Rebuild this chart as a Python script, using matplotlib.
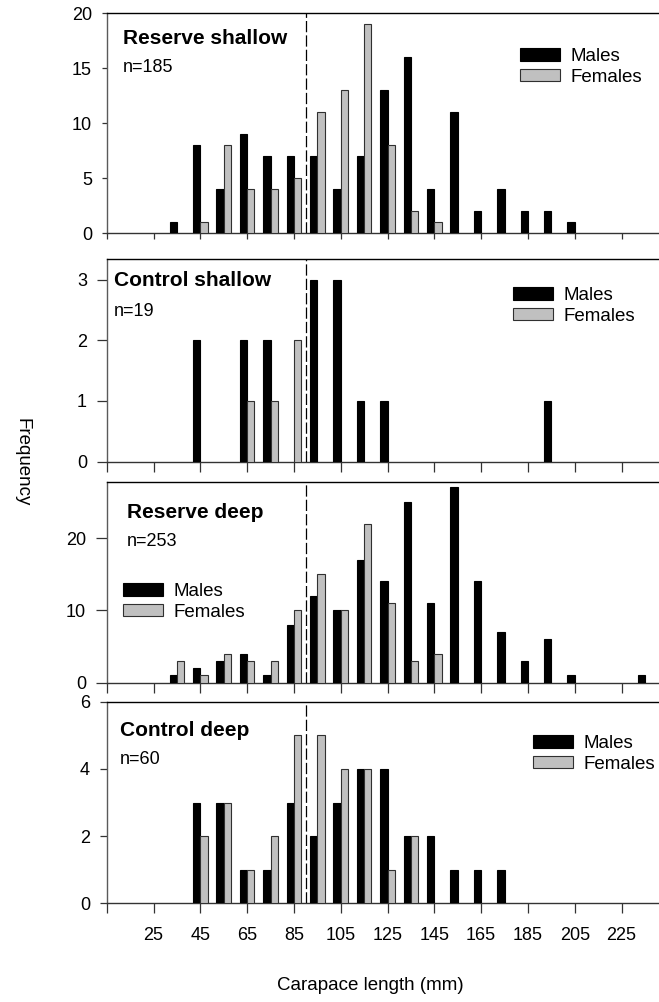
import matplotlib
matplotlib.use("Agg")
import matplotlib.pyplot as plt
import numpy as np

plt.rcParams['font.family'] = ['Liberation Sans', 'DejaVu Sans']

W, H = 659, 1002

# carapace-length size classes (mm, bin centres)
bin_centers = [35, 45, 55, 65, 75, 85, 95, 105, 115, 125, 135,
               145, 155, 165, 175, 185, 195, 205, 215, 225, 235]

reserve_shallow_males = [1, 8, 4, 9, 7, 7, 7, 4, 7, 13, 16, 4, 11, 2, 4, 2, 2, 1, 0, 0, 0]
reserve_shallow_females = [0, 1, 8, 4, 4, 5, 11, 13, 19, 8, 2, 1, 0, 0, 0, 0, 0, 0, 0, 0, 0]
control_shallow_males = [0, 2, 0, 2, 2, 0, 3, 3, 1, 1, 0, 0, 0, 0, 0, 0, 1, 0, 0, 0, 0]
control_shallow_females = [0, 0, 0, 1, 1, 2, 0, 0, 0, 0, 0, 0, 0, 0, 0, 0, 0, 0, 0, 0, 0]
reserve_deep_males = [1, 2, 3, 4, 1, 8, 12, 10, 17, 14, 25, 11, 27, 14, 7, 3, 6, 1, 0, 0, 1]
reserve_deep_females = [3, 1, 4, 3, 3, 10, 15, 10, 22, 11, 3, 4, 0, 0, 0, 0, 0, 0, 0, 0, 0]
control_deep_males = [0, 3, 3, 1, 1, 3, 2, 3, 4, 4, 2, 2, 1, 1, 1, 0, 0, 0, 0, 0, 0]
control_deep_females = [0, 2, 3, 1, 2, 5, 5, 4, 4, 1, 2, 0, 0, 0, 0, 0, 0, 0, 0, 0, 0]

panel_titles = ["Reserve shallow", "Control shallow", "Reserve deep", "Control deep"]
panel_n = ["n=185", "n=19", "n=253", "n=60"]
x_ticks = [5, 25, 45, 65, 85, 105, 125, 145, 165, 185, 205, 225]
x_tick_labels = ["", "25", "45", "65", "85", "105", "125", "145", "165", "185", "205", "225"]
size_limit = 90

panels = [
    dict(m=reserve_shallow_males, f=reserve_shallow_females, top=13.3, bot=233.3,
         ylim=20, yticks=[0, 5, 10, 15, 20], xlen=6, ylen=5,
         title_xy=(123, 38), n_xy=(123, 67), leg_xy=(520, 48)),
    dict(m=control_shallow_males, f=control_shallow_females, top=259.3, bot=461.5,
         ylim=3.34, yticks=[0, 1, 2, 3], xlen=10, ylen=10,
         title_xy=(114, 281), n_xy=(114, 312), leg_xy=(513, 287)),
    dict(m=reserve_deep_males, f=reserve_deep_females, top=481.7, bot=682.7,
         ylim=27.8, yticks=[0, 10, 20], xlen=10, ylen=11,
         title_xy=(127, 513), n_xy=(127, 541), leg_xy=(123, 583)),
    dict(m=control_deep_males, f=control_deep_females, top=701.7, bot=903.3,
         ylim=6, yticks=[0, 2, 4, 6], xlen=10, ylen=7,
         title_xy=(120, 730), n_xy=(120, 759), leg_xy=(533, 735)),
]

fig = plt.figure(figsize=(W / 100, H / 100), dpi=100)

left_px = 106.7
bar_w = 3.1
x = np.array(bin_centers, dtype=float)

for i, p in enumerate(panels):
    ax = fig.add_axes([left_px / W, 1 - p['bot'] / H,
                       (W - left_px) / W, (p['bot'] - p['top']) / H])
    m = np.array(p['m'], dtype=float)
    f = np.array(p['f'], dtype=float)
    mk = m > 0
    fk = f > 0
    hm = ax.bar(x[mk] - bar_w, m[mk], width=bar_w, align='edge',
                color='black', edgecolor='black', linewidth=0.8, label='Males', zorder=3)
    hf = ax.bar(x[fk], f[fk], width=bar_w, align='edge',
                color='#c0c0c0', edgecolor='#303030', linewidth=0.8, label='Females', zorder=3)
    ax.axvline(size_limit, color='black', linewidth=0.9, linestyle=(0, (9, 2.5)), zorder=4)

    ax.set_xlim(5, 241)
    ax.set_ylim(0, p['ylim'])
    ax.set_yticks(p['yticks'])
    ax.set_xticks(x_ticks)
    if i == len(panels) - 1:
        ax.set_xticklabels(x_tick_labels)
    else:
        ax.set_xticklabels([])

    ax.spines['right'].set_visible(False)
    ax.spines['top'].set_color('black')
    ax.spines['top'].set_linewidth(1.0)
    ax.spines['left'].set_color('#5a5a5a')
    ax.spines['left'].set_linewidth(1.0)
    ax.spines['bottom'].set_color('#333333')
    ax.spines['bottom'].set_linewidth(1.0)
    ax.tick_params(axis='x', direction='out', length=p['xlen'] * 0.72, width=0.9,
                   color='#333333', pad=10, labelsize=13)
    ax.tick_params(axis='y', direction='out', length=p['ylen'] * 0.72, width=0.9,
                   color='#333333', pad=7, labelsize=13)

    tx, ty = p['title_xy']
    fig.text(tx / W, 1 - ty / H, panel_titles[i], fontsize=15, fontweight='bold',
             ha='left', va='center')
    nx, ny = p['n_xy']
    fig.text(nx / W, 1 - ny / H, panel_n[i], fontsize=13, ha='left', va='center')

    lx, ly = p['leg_xy']
    ax.legend(handles=[hm, hf], loc='upper left',
              bbox_to_anchor=(lx / W, 1 - ly / H), bbox_transform=fig.transFigure,
              frameon=False, fontsize=13.5, handlelength=2.15, handleheight=0.65,
              handletextpad=0.55, labelspacing=0.2, borderpad=0, borderaxespad=0)

fig.text(370 / W, 1 - 985 / H, "Carapace length (mm)", fontsize=13.5,
         ha='center', va='center')
fig.text(22 / W, 1 - 462 / H, "Frequency", fontsize=13.5, rotation=-90,
         ha='center', va='center')

fig.savefig("out.png", dpi=100)
